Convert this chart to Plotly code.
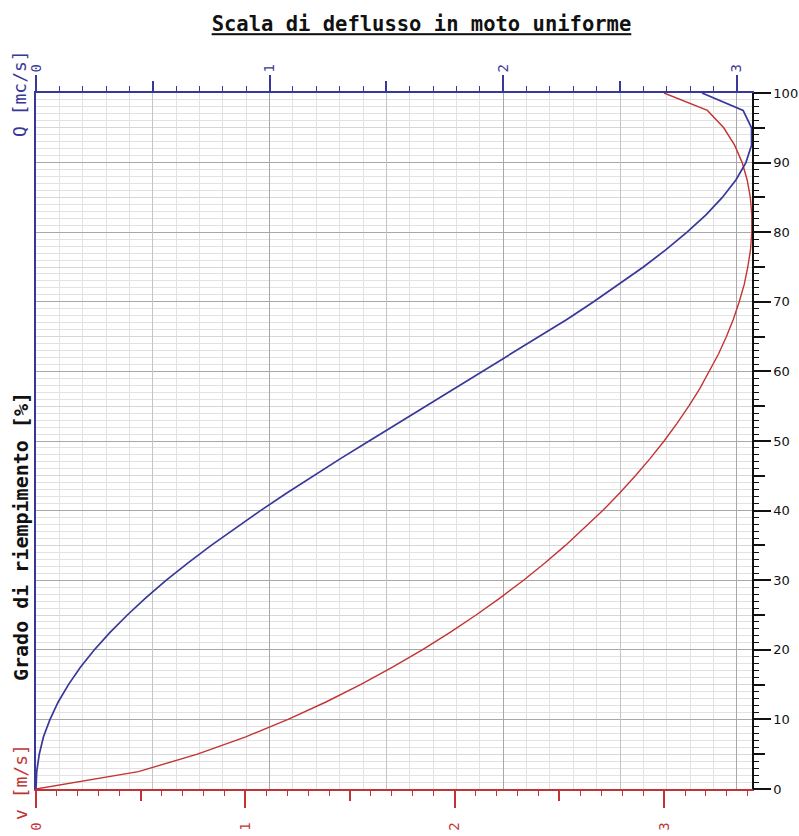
import plotly.graph_objects as go

# Grado di riempimento [%]
fill_pct = [0, 2.5, 5, 7.5, 10, 12.5, 15, 17.5, 20, 22.5, 25, 27.5, 30, 32.5, 35, 37.5,
            40, 42.5, 45, 47.5, 50, 52.5, 55, 57.5, 60, 62.5, 65, 67.5, 70, 72.5, 75,
            77.5, 80, 82.5, 85, 87.5, 90, 92.5, 95, 97.5, 100]

# Portata Q [mc/s]
portata_q = [0, 0.003, 0.014, 0.032, 0.060, 0.095, 0.139, 0.190, 0.250, 0.317, 0.391,
             0.471, 0.558, 0.651, 0.750, 0.853, 0.961, 1.072, 1.188, 1.305, 1.426,
             1.547, 1.670, 1.793, 1.915, 2.037, 2.157, 2.274, 2.387, 2.496, 2.600,
             2.697, 2.787, 2.868, 2.938, 2.996, 3.039, 3.063, 3.063, 3.027, 2.851]

# Velocita' v [m/s]
velocita_v = [0, 0.489, 0.771, 1.002, 1.204, 1.385, 1.550, 1.703, 1.845, 1.978, 2.102,
              2.219, 2.329, 2.432, 2.529, 2.620, 2.707, 2.787, 2.863, 2.934, 3.000,
              3.061, 3.118, 3.170, 3.217, 3.260, 3.298, 3.331, 3.359, 3.383, 3.400,
              3.413, 3.419, 3.419, 3.412, 3.397, 3.373, 3.337, 3.285, 3.207, 3.000]

q_ticks = [0, 1, 2, 3]
q_half_ticks = [0.5, 1.5, 2.5]
v_ticks = [0, 1, 2, 3]
v_half_ticks = [0.5, 1.5, 2.5]
h_ticks = [0, 10, 20, 30, 40, 50, 60, 70, 80, 90, 100]
h_half_ticks = [5, 15, 25, 35, 45, 55, 65, 75, 85, 95]

Q_RANGE = [0, 3.065]
V_RANGE = [0, 3.42]

BLUE = "#38389a"
RED = "#c23434"
MONO = "DejaVu Sans Mono"
SANS = "DejaVu Sans"
GRID_DARK = "#a8a8a8"
GRID_MID = "#c4c4c4"
GRID_HALF_H = "#d6d6d6"
GRID_LIGHT = "#e2e2e2"

fig = go.Figure()
# empty carrier traces so that every overlay axis gets drawn
for xa, ya in [("x3", "y"), ("x4", "y"), ("x", "y2"), ("x", "y3")]:
    fig.add_trace(go.Scatter(x=[], y=[], xaxis=xa, yaxis=ya, mode="lines",
                             showlegend=False, hoverinfo="skip"))
fig.add_trace(go.Scatter(x=velocita_v, y=fill_pct, xaxis="x", yaxis="y", mode="lines",
                         line=dict(color=RED, width=1.4), showlegend=False, hoverinfo="skip"))
fig.add_trace(go.Scatter(x=portata_q, y=fill_pct, xaxis="x2", yaxis="y", mode="lines",
                         line=dict(color=BLUE, width=1.7), showlegend=False, hoverinfo="skip"))

fig.update_layout(
    width=799, height=836,
    margin=dict(l=36, r=47, t=93, b=47, pad=0, autoexpand=False),
    paper_bgcolor="white", plot_bgcolor="white",
    title=dict(text="<u>Scala di deflusso in moto uniforme</u>",
               font=dict(family=MONO, size=20.5, color="#111111", weight="bold"),
               x=0.5275, xanchor="center", xref="container",
               y=1 - 24 / 836, yanchor="middle", yref="container"),
    # bottom axis: velocity (red)
    xaxis=dict(range=V_RANGE, side="bottom", anchor="y",
               tickmode="array", tickvals=v_ticks, ticktext=[str(t) for t in v_ticks],
               ticks="outside", ticklen=17, tickwidth=1.5, tickcolor=RED,
               tickangle=-90, tickfont=dict(family=MONO, size=14, color=RED),
               ticklabelstandoff=9, automargin=False,
               showline=True, linecolor=RED, linewidth=1.5,
               showgrid=False, zeroline=False),
    xaxis3=dict(range=V_RANGE, side="bottom", anchor="y", overlaying="x",
                tickmode="array", tickvals=v_half_ticks, automargin=False,
                ticks="outside", ticklen=11, tickwidth=1.5, tickcolor=RED,
                showticklabels=False, showline=False, showgrid=False, zeroline=False,
                minor=dict(tickmode="linear", tick0=0, dtick=0.1, ticks="outside",
                           ticklen=6, tickwidth=1.3, tickcolor=RED, showgrid=False)),
    # top axis: discharge (blue)
    xaxis2=dict(range=Q_RANGE, side="top", anchor="y", overlaying="x",
                tickmode="array", tickvals=q_ticks, ticktext=[str(t) for t in q_ticks],
                ticks="outside", ticklen=16, tickwidth=1.5, tickcolor=BLUE,
                tickangle=-90, tickfont=dict(family=MONO, size=14, color=BLUE),
                automargin=False,
                showline=True, linecolor=BLUE, linewidth=1.5,
                showgrid=True, gridcolor=GRID_DARK, gridwidth=1, zeroline=False),
    xaxis4=dict(range=Q_RANGE, side="top", anchor="y", overlaying="x",
                tickmode="array", tickvals=q_half_ticks, automargin=False,
                ticks="outside", ticklen=11, tickwidth=1.5, tickcolor=BLUE,
                showticklabels=False, showline=False,
                showgrid=True, gridcolor=GRID_MID, gridwidth=1, zeroline=False,
                minor=dict(tickmode="linear", tick0=0, dtick=0.1, ticks="outside",
                           ticklen=6, tickwidth=1.3, tickcolor=BLUE,
                           showgrid=True, gridcolor=GRID_LIGHT, gridwidth=1)),
    # left line (blue) carrying the curves
    yaxis=dict(range=[0, 100], side="left", anchor="x", automargin=False,
               showticklabels=False, ticks="", showline=True, linecolor=BLUE, linewidth=1.5,
               showgrid=False, zeroline=False),
    # right axis: filling degree (black)
    yaxis2=dict(range=[0, 100], side="right", anchor="x", overlaying="y",
                tickmode="array", tickvals=h_ticks, ticktext=[str(t) for t in h_ticks],
                ticks="outside", ticklen=17, tickwidth=1.5, tickcolor="#111111",
                tickfont=dict(family=SANS, size=13, color="#111111"), automargin=False,
                showline=True, linecolor="#111111", linewidth=1.5,
                showgrid=True, gridcolor=GRID_DARK, gridwidth=1, zeroline=False),
    yaxis3=dict(range=[0, 100], side="right", anchor="x", overlaying="y",
                tickmode="array", tickvals=h_half_ticks, automargin=False,
                ticks="outside", ticklen=12, tickwidth=1.5, tickcolor="#111111",
                showticklabels=False, showline=False,
                showgrid=True, gridcolor=GRID_HALF_H, gridwidth=1, zeroline=False,
                minor=dict(tickmode="linear", tick0=0, dtick=1, ticks="outside",
                           ticklen=6, tickwidth=1.3, tickcolor="#111111",
                           showgrid=True, gridcolor=GRID_LIGHT, gridwidth=1)),
    annotations=[
        dict(text="Grado di riempimento [%]", xref="paper", yref="paper",
             x=(21 - 36) / 716, y=(789 - 537) / 696, xanchor="center", yanchor="middle",
             textangle=-90, showarrow=False,
             font=dict(family=MONO, size=20, color="#111111", weight="bold")),
        dict(text="Q [mc/s]", xref="paper", yref="paper",
             x=(20 - 36) / 716, y=(789 - 94) / 696, xanchor="center", yanchor="middle",
             textangle=-90, showarrow=False,
             font=dict(family=MONO, size=18, color=BLUE)),
        dict(text="v [m/s]", xref="paper", yref="paper",
             x=(20 - 36) / 716, y=(789 - 782) / 696, xanchor="center", yanchor="middle",
             textangle=-90, showarrow=False,
             font=dict(family=MONO, size=18, color=RED)),
    ],
)

fig.write_html("out.html", config={"displayModeBar": False},
               post_script="document.body.style.margin='0';document.body.style.padding='0';")
